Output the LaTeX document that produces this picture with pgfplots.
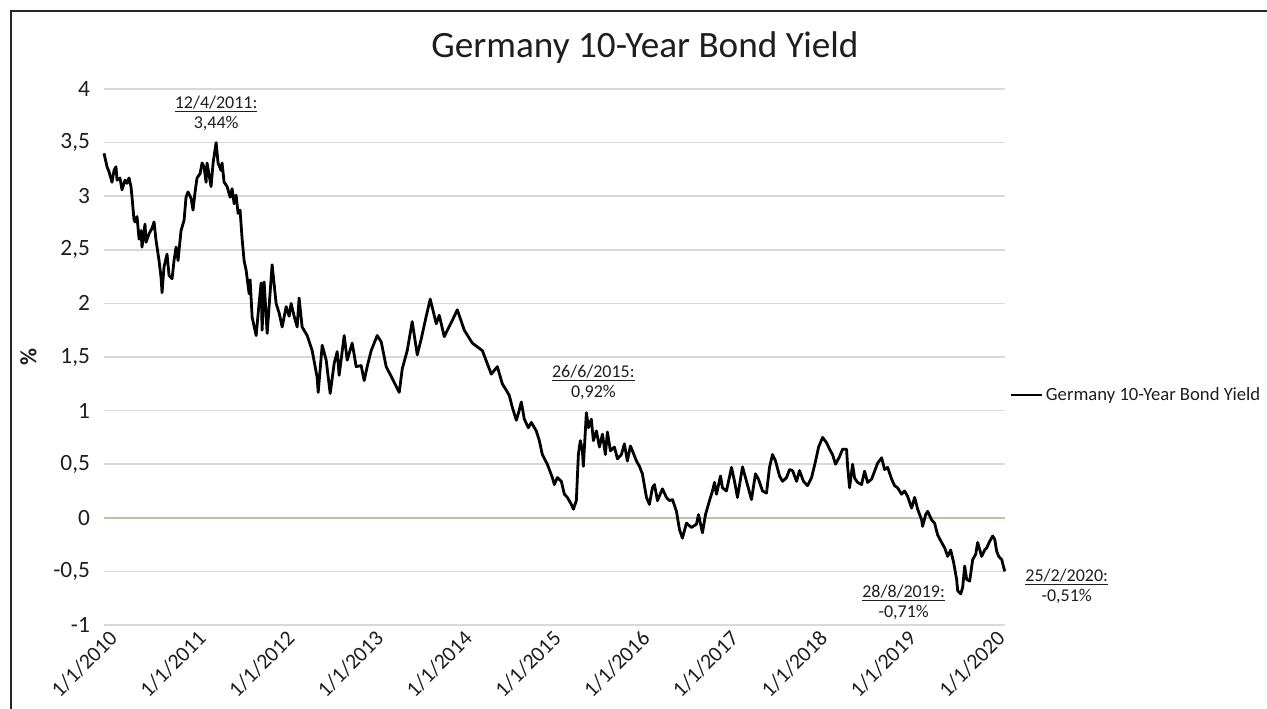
\documentclass[border=0pt]{standalone}
\usepackage{pgfplots}
\usepackage{pgfplotstable}
\pgfplotsset{compat=1.18}
\usepackage{fontspec}
\setmainfont{Carlito}
\definecolor{gridgray}{RGB}{217,217,217}
\definecolor{zerogreen}{RGB}{178,200,160}
\definecolor{txt}{RGB}{30,30,30}

\pgfplotstableread{
t y
0.000 3.40
0.034 3.275
0.056 3.23
0.090 3.13
0.113 3.24
0.135 3.275
0.147 3.15
0.180 3.17
0.203 3.06
0.237 3.15
0.259 3.12
0.282 3.17
0.304 3.09
0.316 2.99
0.338 2.78
0.350 2.76
0.372 2.81
0.395 2.60
0.417 2.68
0.428 2.525
0.462 2.74
0.474 2.57
0.507 2.65
0.541 2.70
0.564 2.76
0.586 2.59
0.620 2.40
0.643 2.24
0.654 2.10
0.676 2.34
0.710 2.46
0.733 2.26
0.767 2.23
0.789 2.40
0.812 2.525
0.834 2.40
0.868 2.68
0.902 2.775
0.924 2.99
0.947 3.04
0.981 2.98
1.003 2.87
1.026 3.04
1.048 3.17
1.082 3.21
1.105 3.31
1.127 3.275
1.150 3.13
1.161 3.31
1.206 3.09
1.229 3.31
1.263 3.50
1.285 3.31
1.319 3.24
1.330 3.31
1.353 3.13
1.387 3.09
1.421 2.99
1.443 3.07
1.466 2.93
1.488 3.01
1.511 2.84
1.533 2.87
1.556 2.60
1.578 2.40
1.601 2.31
1.635 2.09
1.646 2.22
1.669 1.87
1.714 1.70
1.747 2.00
1.770 2.19
1.781 1.75
1.804 2.20
1.838 1.72
1.894 2.36
1.939 2.00
1.973 1.91
2.007 1.78
2.052 1.97
2.086 1.88
2.108 2.00
2.142 1.88
2.176 1.78
2.198 2.05
2.232 1.78
2.289 1.70
2.345 1.56
2.401 1.31
2.413 1.17
2.458 1.61
2.503 1.47
2.548 1.16
2.593 1.44
2.627 1.55
2.649 1.33
2.706 1.70
2.740 1.47
2.796 1.63
2.841 1.41
2.897 1.42
2.931 1.28
2.965 1.41
3.010 1.56
3.078 1.70
3.123 1.64
3.179 1.41
3.247 1.30
3.326 1.17
3.360 1.39
3.416 1.56
3.472 1.83
3.529 1.52
3.574 1.67
3.630 1.88
3.675 2.04
3.743 1.81
3.777 1.89
3.833 1.69
3.923 1.84
3.980 1.94
4.059 1.75
4.149 1.63
4.262 1.56
4.363 1.34
4.431 1.41
4.487 1.25
4.532 1.19
4.566 1.14
4.600 1.03
4.645 0.91
4.667 0.97
4.701 1.08
4.735 0.92
4.780 0.84
4.814 0.89
4.870 0.81
4.904 0.72
4.938 0.59
4.994 0.50
5.051 0.375
5.073 0.31
5.107 0.375
5.152 0.34
5.186 0.22
5.220 0.19
5.265 0.125
5.288 0.08
5.321 0.16
5.344 0.59
5.366 0.72
5.389 0.625
5.400 0.48
5.434 0.98
5.457 0.84
5.490 0.92
5.513 0.72
5.547 0.81
5.581 0.66
5.615 0.78
5.648 0.59
5.671 0.80
5.705 0.625
5.750 0.66
5.784 0.55
5.829 0.59
5.862 0.69
5.896 0.53
5.930 0.67
5.953 0.625
5.998 0.53
6.032 0.48
6.065 0.41
6.111 0.19
6.144 0.125
6.178 0.28
6.201 0.31
6.235 0.16
6.291 0.27
6.336 0.19
6.370 0.16
6.404 0.17
6.449 0.06
6.483 -0.11
6.516 -0.19
6.561 -0.05
6.618 -0.09
6.674 -0.06
6.697 0.03
6.742 -0.14
6.776 0.03
6.821 0.16
6.855 0.25
6.877 0.33
6.900 0.22
6.945 0.39
6.967 0.28
7.012 0.25
7.069 0.47
7.103 0.34
7.136 0.19
7.193 0.475
7.238 0.34
7.294 0.17
7.339 0.41
7.373 0.36
7.418 0.25
7.463 0.23
7.497 0.47
7.531 0.59
7.565 0.53
7.610 0.39
7.644 0.34
7.689 0.375
7.723 0.45
7.757 0.44
7.802 0.34
7.835 0.44
7.880 0.34
7.925 0.30
7.971 0.375
8.016 0.53
8.050 0.66
8.095 0.75
8.140 0.70
8.174 0.64
8.207 0.59
8.241 0.50
8.286 0.57
8.320 0.64
8.365 0.64
8.377 0.48
8.399 0.28
8.433 0.50
8.456 0.37
8.489 0.33
8.534 0.31
8.568 0.435
8.602 0.33
8.647 0.36
8.681 0.435
8.715 0.51
8.760 0.56
8.794 0.45
8.828 0.47
8.873 0.36
8.906 0.30
8.940 0.28
8.985 0.22
9.019 0.25
9.053 0.20
9.098 0.09
9.132 0.19
9.166 0.08
9.211 -0.02
9.222 -0.08
9.256 0.03
9.279 0.06
9.324 -0.02
9.357 -0.05
9.391 -0.16
9.436 -0.23
9.470 -0.28
9.504 -0.36
9.538 -0.30
9.572 -0.42
9.605 -0.575
9.617 -0.68
9.651 -0.71
9.673 -0.65
9.696 -0.45
9.718 -0.575
9.752 -0.59
9.786 -0.39
9.820 -0.34
9.842 -0.23
9.887 -0.36
9.921 -0.30
9.944 -0.28
9.977 -0.22
10.011 -0.17
10.034 -0.20
10.056 -0.31
10.079 -0.36
10.113 -0.39
10.147 -0.50
}\yielddata

\begin{document}
\begin{tikzpicture}
\begin{axis}[
  scale only axis,
  width=675.75pt, height=402pt,
  xmin=0, xmax=10.15,
  ymin=-1, ymax=4,
  axis line style={draw=none},
  tick style={draw=none},
  clip=false,
  ytick={-1,-0.5,...,4},
  ymajorgrids,
  grid style={gridgray, line width=1.1pt},
  extra y ticks={0},
  extra y tick style={grid style={zerogreen, line width=1.1pt}, yticklabel={}},
  yticklabel={\pgfmathprintnumber[assume math mode=true,use comma,fixed]{\tick}},
  yticklabel style={font=\fontsize{17.5pt}{20pt}\selectfont, text=txt, xshift=-7pt},
  xtick={0,1,...,10},
  xticklabels={1/1/2010,1/1/2011,1/1/2012,1/1/2013,1/1/2014,1/1/2015,1/1/2016,1/1/2017,1/1/2018,1/1/2019,1/1/2020},
  xticklabel style={font=\fontsize{16.3pt}{19pt}\selectfont, text=txt, rotate=45, anchor=north east, inner sep=1pt, xshift=1pt, yshift=-3pt},
  title={Germany 10-Year Bond Yield},
  title style={at={(0.6004,1.063)}, anchor=center, font=\fontsize{27.9pt}{33pt}\selectfont, text=txt},
  ylabel={\%},
  ylabel style={at={(axis description cs:-0.084,0.5)}, anchor=center, font=\bfseries\fontsize{17.5pt}{20pt}\selectfont, text=txt},
  legend style={at={(1.0055,0.429)}, anchor=west, draw=none, fill=none,
    font=\fontsize{14pt}{17pt}\selectfont, text=txt, inner sep=0pt},
  legend image code/.code={\draw[#1, line width=1.8pt] (0pt,0pt) -- (23pt,0pt);},
  legend cell align=left,
]
\addplot[black, line width=2.1pt, line join=round] table[x=t, y=y] {\yielddata};
\addlegendentry{Germany 10-Year Bond Yield}

\node[align=center, font=\fontsize{13.5pt}{15pt}\selectfont, text=txt] at (axis cs:1.263,3.77) {\underline{12/4/2011:}\\3,44\%};
\node[align=center, font=\fontsize{13.5pt}{15pt}\selectfont, text=txt] at (axis cs:5.513,1.26) {\underline{26/6/2015:}\\0,92\%};
\node[align=center, font=\fontsize{13.5pt}{15pt}\selectfont, text=txt] at (axis cs:9.008,-0.787) {\underline{28/8/2019:}\\-0,71\%};
\node[align=center, font=\fontsize{13.5pt}{15pt}\selectfont, text=txt] at (axis cs:10.845,-0.638) {\underline{25/2/2020:}\\-0,51\%};
\end{axis}
\draw[black!85, line width=1.5pt] (-69.75pt,-70pt) -- (-69.75pt,460.5pt) -- (880pt,460.5pt);
\pgfresetboundingbox
\useasboundingbox (-78pt,-63pt) rectangle (872.25pt,468.75pt);
\end{tikzpicture}
\end{document}
